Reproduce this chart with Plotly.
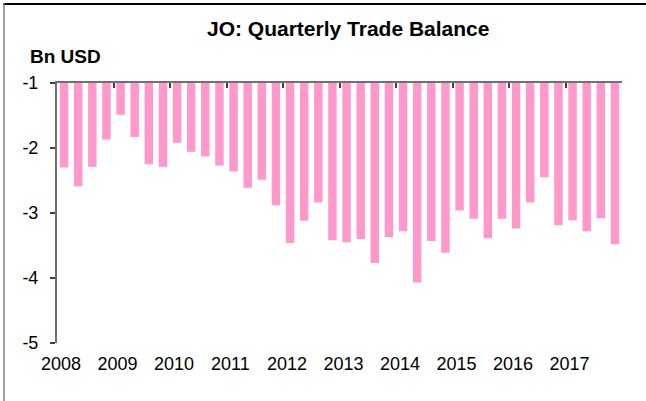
import plotly.graph_objects as go

years = list(range(2008, 2018))
trade_balance = [
    -2.30, -2.59, -2.29, -1.87,
    -1.49, -1.83, -2.25, -2.29,
    -1.92, -2.06, -2.13, -2.27,
    -2.36, -2.61, -2.49, -2.88,
    -3.46, -3.12, -2.84, -3.42,
    -3.45, -3.40, -3.77, -3.37,
    -3.28, -4.07, -3.43, -3.61,
    -2.96, -3.09, -3.39, -3.09,
    -3.24, -2.84, -2.45, -3.19,
    -3.11, -3.28, -3.08, -3.48,
]
year_labels = [str(y) for y in years]
y_ticks = [-5, -4, -3, -2, -1]

x_pos = [y + (q + 0.5) / 4 for y in years for q in range(4)]
base_level = -1
heights = [v - base_level for v in trade_balance]

FONT = "Liberation Sans, Arial, sans-serif"

fig = go.Figure()
fig.add_trace(go.Bar(
    x=x_pos, y=heights, base=base_level,
    width=0.15,
    marker=dict(color="#FF99CC", line=dict(width=0)),
    xaxis="x", yaxis="y",
))
# invisible trace to enable top axis
fig.add_trace(go.Scatter(x=[2008, 2018], y=[-1, -1], mode="lines",
                         line=dict(width=0), xaxis="x2", yaxis="y",
                         showlegend=False, hoverinfo="skip"))

fig.update_layout(
    width=646, height=401,
    margin=dict(l=57, r=24, t=83, b=58),
    paper_bgcolor="white", plot_bgcolor="white",
    showlegend=False,
    font=dict(family=FONT, size=17, color="black"),
    xaxis=dict(
        range=[2008, 2018],
        tickmode="array",
        tickvals=[y + 0.07 for y in years],
        ticktext=year_labels,
        showline=False, showgrid=False, zeroline=False,
        ticks="", ticklabelstandoff=8,
        tickfont=dict(size=18, family=FONT),
    ),
    xaxis2=dict(
        range=[2008, 2018],
        overlaying="x", side="top", anchor="y",
        tickmode="array", tickvals=years + [2018],
        showticklabels=False,
        showline=True, linecolor="#707070", linewidth=2,
        ticks="inside", ticklen=5, tickwidth=1.5, tickcolor="#404040",
        showgrid=False, zeroline=False,
    ),
    yaxis=dict(
        range=[-5, -1],
        tickmode="array", tickvals=y_ticks,
        ticktext=[str(t) for t in y_ticks],
        showline=True, linecolor="#707070", linewidth=2,
        ticks="outside", ticklen=5, tickwidth=1.5, tickcolor="#404040",
        showgrid=False, zeroline=False,
        ticklabelstandoff=8,
        tickfont=dict(size=18, family=FONT),
    ),
    annotations=[
        dict(text="<b>JO: Quarterly Trade Balance</b>", xref="paper", yref="paper",
             x=(348 - 57) / 565, y=1 + (83 - 28) / 260, xanchor="center", yanchor="middle",
             showarrow=False, font=dict(size=21, family=FONT, color="black")),
        dict(text="<b>Bn USD</b>", xref="paper", yref="paper",
             x=(28 - 57) / 565, y=1 + (83 - 57) / 260, xanchor="left", yanchor="middle",
             showarrow=False, font=dict(size=19, family=FONT, color="black")),
    ],
    shapes=[
        dict(type="line", xref="paper", yref="paper",
             x0=(3 - 57) / 565, x1=(660 - 57) / 565,
             y0=1 + (83 - 4) / 260, y1=1 + (83 - 4) / 260,
             line=dict(color="black", width=2)),
        dict(type="line", xref="paper", yref="paper",
             x0=(4 - 57) / 565, x1=(4 - 57) / 565,
             y0=1 + (83 - 3) / 260, y1=-(420 - 343) / 260,
             line=dict(color="#808080", width=1.5)),
    ],
)

fig.write_html("out.html", config={"displayModeBar": False},
               post_script="document.body.style.margin='0';document.body.style.overflow='hidden';")
